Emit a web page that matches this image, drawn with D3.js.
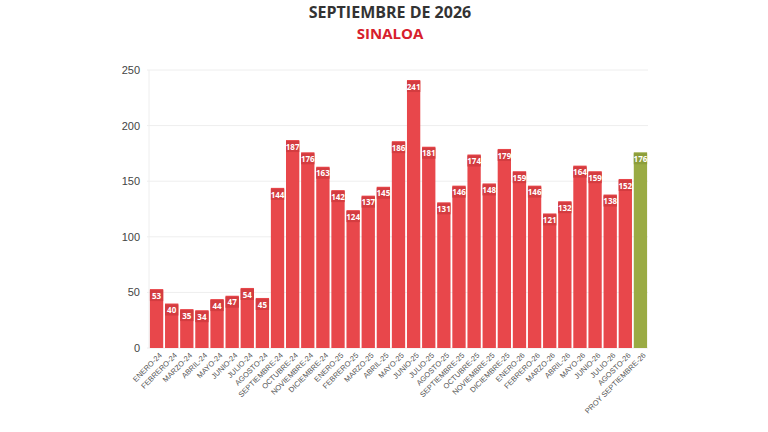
<!DOCTYPE html>
<html>
<head>
<meta charset="utf-8">
<script src="https://cdn.jsdelivr.net/npm/d3@7/dist/d3.min.js"></script>
<style>
  body { margin: 0; background: #fff; }
  svg { display: block; font-family: "Open Sans", "Noto Sans", sans-serif; }
</style>
</head>
<body>
<div id="chart"></div>
<script>
const months = [
    "ENERO-24", "FEBRERO-24", "MARZO-24", "ABRIL-24", "MAYO-24", "JUNIO-24", "JULIO-24", "AGOSTO-24",
    "SEPTIEMBRE-24", "OCTUBRE-24", "NOVIEMBRE-24", "DICIEMBRE-24",
    "ENERO-25", "FEBRERO-25", "MARZO-25", "ABRIL-25", "MAYO-25", "JUNIO-25", "JULIO-25", "AGOSTO-25",
    "SEPTIEMBRE-25", "OCTUBRE-25", "NOVIEMBRE-25", "DICIEMBRE-25",
    "ENERO-26", "FEBRERO-26", "MARZO-26", "ABRIL-26", "MAYO-26", "JUNIO-26", "JULIO-26", "AGOSTO-26",
    "PROY SEPTIEMBRE-26"
];
const values = [
    53, 40, 35, 34, 44, 47, 54, 45,
    144, 187, 176, 163,
    142, 124, 137, 145, 186, 241, 181, 131,
    146, 174, 148, 179,
    159, 146, 121, 132, 164, 159, 138, 152,
    176
];
const projected = ["PROY SEPTIEMBRE-26"];
const yTicks = [0, 50, 100, 150, 200, 250];

function draw() {
    const width = 768, height = 432;
    const margin = {top: 70, right: 120, bottom: 84, left: 149};

    const svg = d3.select("#chart").append("svg")
        .attr("width", width)
        .attr("height", height);

    const x = d3.scaleBand()
        .domain(months)
        .range([margin.left, width - margin.right])
        .paddingInner(0.12)
        .paddingOuter(0.06);

    const y = d3.scaleLinear()
        .domain([0, 250])
        .range([height - margin.bottom, margin.top]);

    // grid
    svg.append("g")
        .selectAll("line")
        .data(yTicks)
        .enter().append("line")
        .attr("x1", margin.left - 2)
        .attr("x2", width - margin.right)
        .attr("y1", d => y(d))
        .attr("y2", d => y(d))
        .attr("stroke", "#eeeeee")
        .attr("stroke-width", 1);

    svg.append("line")
        .attr("x1", margin.left)
        .attr("x2", margin.left)
        .attr("y1", y(250))
        .attr("y2", y(0))
        .attr("stroke", "#eeeeee");

    // y axis
    const yAxis = svg.append("g")
        .attr("transform", `translate(${margin.left - 6},0)`)
        .call(d3.axisLeft(y).tickValues(yTicks).tickSize(0));
    yAxis.select(".domain").remove();
    yAxis.selectAll("text")
        .attr("fill", "#444")
        .style("font-size", "11px");

    // bars
    svg.append("g")
        .selectAll("rect")
        .data(months)
        .enter().append("rect")
        .attr("x", d => x(d))
        .attr("y", (d, i) => y(values[i]))
        .attr("width", x.bandwidth())
        .attr("height", (d, i) => y(0) - y(values[i]))
        .attr("fill", d => projected.includes(d) ? "#9aab44" : "#e8474b");

    // value labels
    const labels = svg.append("g")
        .selectAll("g")
        .data(months)
        .enter().append("g")
        .attr("transform", (d, i) => `translate(${x(d) + x.bandwidth() / 2},${y(values[i]) + 7})`);

    labels.append("rect")
        .attr("x", -x.bandwidth() / 2)
        .attr("y", -6)
        .attr("width", x.bandwidth())
        .attr("height", 11)
        .attr("fill", d => projected.includes(d) ? "#8d9e3a" : "#d43c40");

    labels.append("text")
        .attr("text-anchor", "middle")
        .attr("dy", "0.33em")
        .attr("fill", "#fff")
        .style("font-size", "8px")
        .style("font-weight", "bold")
        .text((d, i) => values[i]);

    // x axis labels
    const xAxis = svg.append("g")
        .attr("transform", `translate(0,${y(0)})`)
        .call(d3.axisBottom(x).tickSize(0));
    xAxis.select(".domain").remove();
    xAxis.selectAll("text")
        .attr("fill", "#555")
        .style("font-size", "7.5px")
        .attr("text-anchor", "end")
        .attr("transform", "translate(4,6) rotate(-45)")
        .attr("dy", "0.35em")
        .attr("y", 0)
        .attr("x", 0);

    // titles
    svg.append("text")
        .attr("x", 390)
        .attr("y", 18)
        .attr("text-anchor", "middle")
        .attr("fill", "#333")
        .style("font-size", "16px")
        .style("font-weight", "bold")
        .text("SEPTIEMBRE DE 2026");

    svg.append("text")
        .attr("x", 390)
        .attr("y", 39)
        .attr("text-anchor", "middle")
        .attr("fill", "#d7202c")
        .style("font-size", "15px")
        .style("font-weight", "bold")
        .text("SINALOA");
}

draw();
</script>
</body>
</html>
